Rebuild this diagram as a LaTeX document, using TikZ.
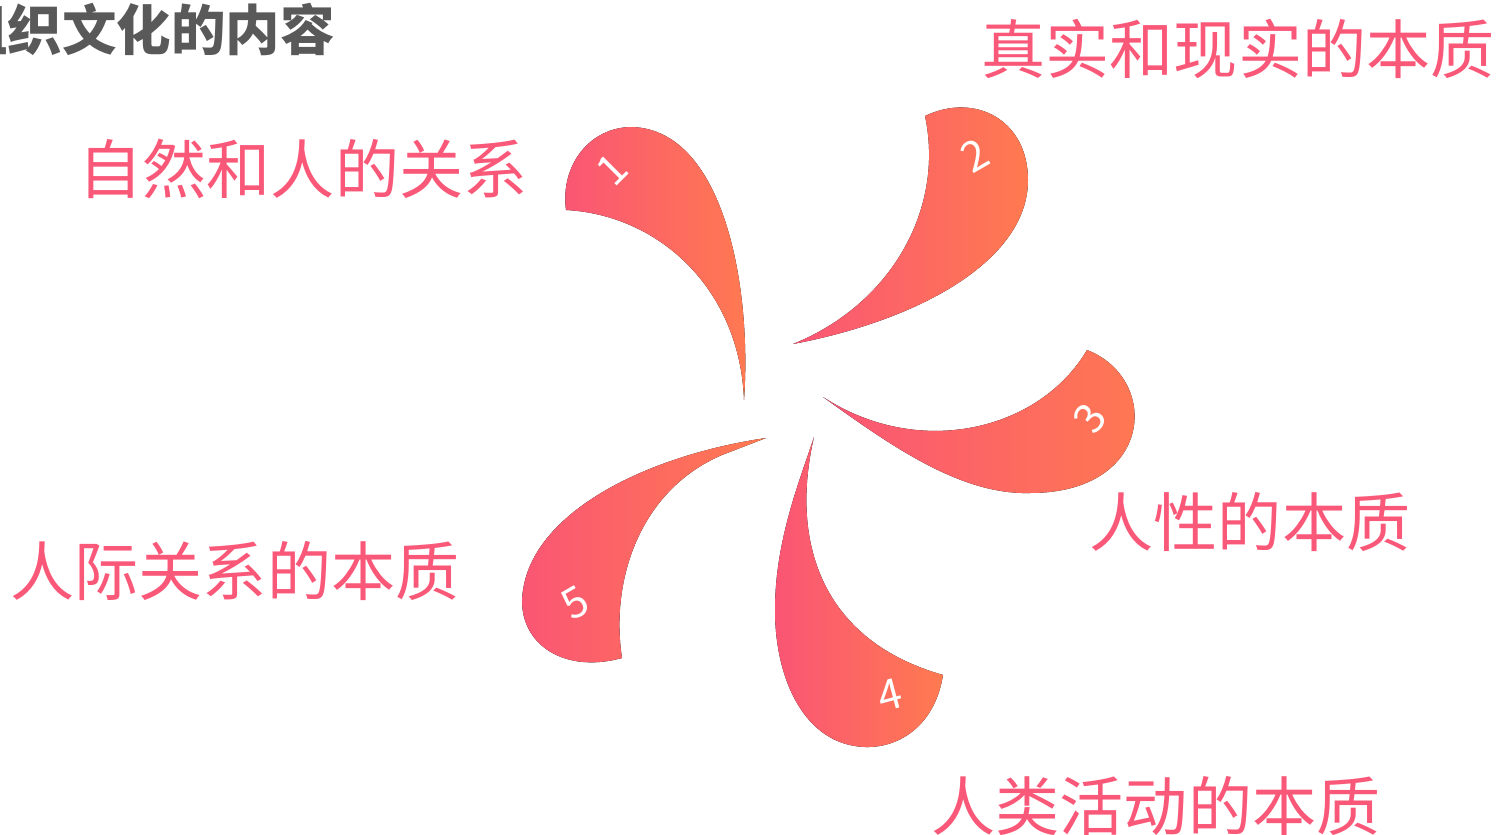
\documentclass[tikz,border=0pt]{standalone}
\usepackage{fontspec}
\usepackage{tikz}
\newfontfamily\cjk{Noto Sans CJK SC}
\definecolor{petalpink}{HTML}{FA5575}
\definecolor{petalorange}{HTML}{FF7A50}
\definecolor{labelpink}{HTML}{FA5878}
\definecolor{titlegray}{HTML}{595959}
\tikzset{
  petal/.style={left color=petalpink, right color=petalorange, draw=none},
  label/.style={text=labelpink, inner sep=0pt, anchor=base, font=\cjk\fontsize{36.5}{40}\selectfont},
  num/.style={text=white, inner sep=0pt, font=\cjk\fontsize{24}{26}\selectfont}
}
\begin{document}
\begin{tikzpicture}[x=0.02cm, y=-0.02cm]
                    \clip (0,0) rectangle (1499,835);
                    \fill[white] (0,0) rectangle (1499,835);
                    \fill[petal] (744,400) .. controls (752,290) and (725,130) .. (632,127) .. controls (590,127) and (560,165) .. (566,210) .. controls (660,215) and (740,290) .. (744,400) -- cycle;
                    \fill[petal] (793,344) .. controls (890,305) and (945,210) .. (925,116) .. controls (975,92) and (1028,120) .. (1028,180) .. controls (1028,260) and (920,320) .. (793,344) -- cycle;
                    \fill[petal] (823,397) .. controls (920,460) and (1040,430) .. (1087,350) .. controls (1160,378) and (1155,493) .. (1030,493) .. controls (960,495) and (890,445) .. (823,397) -- cycle;
                    \fill[petal] (814,437) .. controls (790,540) and (820,640) .. (943,675) .. controls (935,725) and (900,748) .. (865,747) .. controls (805,745) and (775,680) .. (775,610) .. controls (775,540) and (800,480) .. (814,437) -- cycle;
                    \fill[petal] (766,438) .. controls (650,455) and (535,510) .. (523,590) .. controls (515,640) and (560,675) .. (622,658) .. controls (610,580) and (640,490) .. (722,455) -- cycle;
                    \node[num, rotate=45] (n1) at (612,170) {1};
                    \node[num, rotate=30] (n2) at (975,155) {2};
                    \node[num, rotate=55] (n3) at (1090,418) {3};
                    \node[num, rotate=15] (n4) at (890,695) {4};
                    \node[num, rotate=30] (n5) at (575,603) {5};
                    \node[label] (t1) at (303,193) {自然和人的关系};
                    \node[label] (t2) at (1238,73) {真实和现实的本质};
                    \node[label] (t3) at (1250,546) {人性的本质};
                    \node[label] (t4) at (1156,830) {人类活动的本质};
                    \node[label] (t5) at (235,595) {人际关系的本质};
                    \node[inner sep=0pt, anchor=base, text=titlegray, font=\cjk\bfseries\fontsize{31}{34}\selectfont] (title) at (144,51) {组织文化的内容};
                \end{tikzpicture}
\end{document}
